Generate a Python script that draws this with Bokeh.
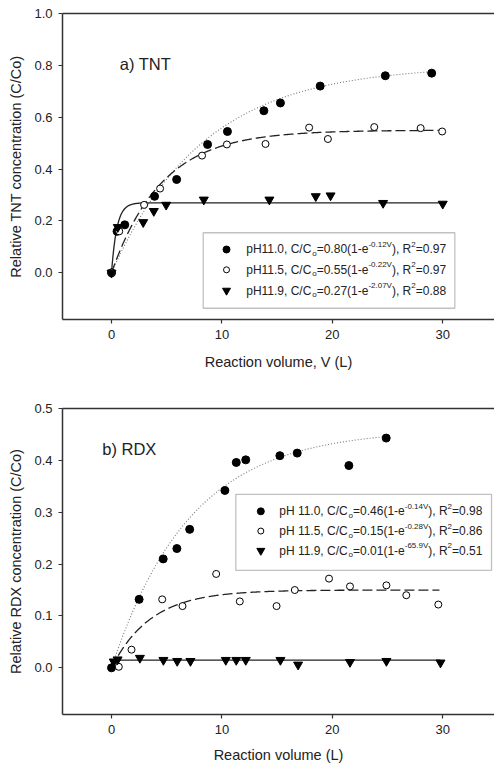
import numpy as np
from bokeh.plotting import figure
from bokeh.models import Range1d, FixedTicker, NumeralTickFormatter, Label, BoxAnnotation, LinearAxis
from bokeh.layouts import column
from bokeh.embed import file_html
from bokeh.resources import INLINE

FONT = "Liberation Sans"
INK = "#222222"
AXC = "#333333"

# ---------------- data ----------------
X_TICKS = [0, 10, 20, 30]
TNT_Y_TICKS = [0.0, 0.2, 0.4, 0.6, 0.8, 1.0]
RDX_Y_TICKS = [0.0, 0.1, 0.2, 0.3, 0.4, 0.5]

# TNT panel (a)
TNT_V_110 = [0, 0.5, 1.2, 3.9, 5.9, 8.7, 10.5, 13.8, 15.3, 18.9, 24.8, 29.0]
TNT_C_110 = [0.0, 0.16, 0.185, 0.295, 0.36, 0.495, 0.545, 0.625, 0.655, 0.72, 0.76, 0.77]
TNT_V_115 = [0, 0.7, 2.95, 4.4, 8.2, 10.45, 13.95, 17.9, 19.6, 23.8, 28.0, 29.95]
TNT_C_115 = [0.0, 0.16, 0.262, 0.325, 0.452, 0.495, 0.497, 0.56, 0.516, 0.562, 0.558, 0.545]
TNT_V_119 = [0, 0.57, 2.87, 3.83, 4.95, 8.36, 14.3, 18.5, 19.84, 24.6, 30.0]
TNT_C_119 = [0.0, 0.176, 0.195, 0.238, 0.262, 0.282, 0.282, 0.295, 0.298, 0.269, 0.266]

# RDX panel (b)
RDX_V_110 = [0, 2.5, 4.68, 5.92, 7.08, 10.27, 11.3, 12.16, 15.25, 16.82, 21.5, 24.88]
RDX_C_110 = [0.0, 0.132, 0.21, 0.23, 0.267, 0.342, 0.396, 0.401, 0.409, 0.414, 0.39, 0.443]
RDX_V_115 = [0.66, 1.81, 4.59, 6.43, 9.48, 11.62, 14.95, 16.6, 19.7, 21.6, 24.9, 26.7, 29.6]
RDX_C_115 = [0.002, 0.035, 0.132, 0.119, 0.181, 0.128, 0.119, 0.15, 0.172, 0.157, 0.159, 0.14, 0.122]
RDX_V_119 = [0.2, 0.55, 2.57, 4.7, 5.95, 7.15, 10.35, 11.3, 12.16, 15.3, 16.9, 21.6, 24.9, 29.8]
RDX_C_119 = [0.012, 0.016, 0.019, 0.015, 0.013, 0.013, 0.015, 0.015, 0.015, 0.015, 0.006, 0.011, 0.013, 0.01]

# fitted curves C/Co = A(1-exp(-kV)), drawn from 0 to END
TNT_FIT_A = [0.80, 0.55, 0.27]
TNT_FIT_K = [0.12, 0.22, 2.07]
TNT_FIT_END = [29.0, 30.0, 30.0]
RDX_FIT_A = [0.46, 0.15, 0.015]
RDX_FIT_K = [0.14, 0.28, 65.9]
RDX_FIT_END = [24.9, 29.7, 29.8]

# legend texts
TNT_LEG_PH = ["pH11.0", "pH11.5", "pH11.9"]
TNT_LEG_A = ["0.80", "0.55", "0.27"]
TNT_LEG_K = ["-0.12V", "-0.22V", "-2.07V"]
TNT_LEG_R2 = ["0.97", "0.97", "0.88"]
RDX_LEG_PH = ["pH 11.0", "pH 11.5", "pH 11.9"]
RDX_LEG_A = ["0.46", "0.15", "0.01"]
RDX_LEG_K = ["-0.14V", "-0.28V", "-65.9V"]
RDX_LEG_R2 = ["0.98", "0.86", "0.51"]

# ---------------- helpers ----------------
ARIAL_W = {c: 556 for c in "0123456789"}
ARIAL_W.update({".": 278, ",": 278, " ": 278, "/": 278, "(": 333, ")": 333, "-": 333,
                "=": 584, "p": 556, "H": 722, "C": 722, "o": 556, "e": 556, "V": 667, "R": 722})


def text_width(s, size):
    return sum(ARIAL_W.get(c, 556) for c in s) / 1000.0 * size


def px_x(px):
    return (px - 111.0) / 11.04


def make_fig(height, btop, bbot, yr, yticks, xlabel, ylabel, xstand):
    p = figure(width=494, height=height, x_range=Range1d(-4.44, 34.69), y_range=Range1d(*yr),
               output_backend="svg", toolbar_location=None,
               min_border_left=62, min_border_right=0, min_border_top=btop, min_border_bottom=bbot)
    p.outline_line_color = None
    p.xgrid.visible = False
    p.ygrid.visible = False
    for ax in (p.xaxis[0], p.yaxis[0]):
        ax.axis_line_color = AXC
        ax.axis_line_width = 1.5
        ax.major_tick_line_color = AXC
        ax.major_tick_line_width = 1.2
        ax.major_tick_out = 4
        ax.major_tick_in = 0
        ax.minor_tick_line_color = None
        ax.major_label_text_font = FONT
        ax.major_label_text_font_size = "13px"
        ax.major_label_text_color = INK
        ax.axis_label_text_font = FONT
        ax.axis_label_text_font_size = "14.5px"
        ax.axis_label_text_font_style = "normal"
        ax.axis_label_text_color = INK
    p.xaxis.ticker = FixedTicker(ticks=X_TICKS)
    p.yaxis.ticker = FixedTicker(ticks=yticks)
    p.yaxis.formatter = NumeralTickFormatter(format="0.0")
    p.xaxis.axis_label = xlabel
    p.yaxis.axis_label = ylabel
    p.xaxis.major_label_standoff = 6
    p.xaxis.axis_label_standoff = xstand
    p.yaxis.major_label_standoff = 6
    p.yaxis.axis_label_standoff = 7
    top_axis = LinearAxis(ticker=FixedTicker(ticks=[]), axis_line_color=AXC, axis_line_width=1.5,
                          major_tick_line_color=None, minor_tick_line_color=None,
                          major_label_text_font_size="0px", major_label_standoff=0)
    p.add_layout(top_axis, "above")
    return p


def fit_curve(a, k, end):
    v = np.concatenate([np.linspace(0, 0.6, 80), np.linspace(0.6, end, 400)[1:]])
    return v, a * (1 - np.exp(-k * v))


def add_series(p, vs, cs, fa, fk, fend):
    styles = [dict(line_color="#777777", line_width=1.1, line_dash="1 2"),
              dict(line_color="#222222", line_width=1.3, line_dash="10 4"),
              dict(line_color="#222222", line_width=1.3)]
    for i in range(3):
        v, c = fit_curve(fa[i], fk[i], fend[i])
        p.line(v, c, **styles[i])
    p.scatter(vs[0], cs[0], marker="circle", size=8, fill_color="black", line_color="black")
    p.scatter(vs[1], cs[1], marker="circle", size=7, fill_color="white", line_color="black", line_width=1)
    p.scatter(vs[2], cs[2], marker="inverted_triangle", size=9, fill_color="black", line_color="black")


def add_legend(p, box, mx, tx, rows, ph, amp, kk, r2):
    left, right, top, bottom = box
    p.add_layout(BoxAnnotation(left=left, right=right, top=top, bottom=bottom,
                               fill_alpha=0, line_color=AXC, line_width=1.3))
    p.scatter([mx], [rows[0]], marker="circle", size=7, fill_color="black", line_color="black")
    p.scatter([mx], [rows[1]], marker="circle", size=6, fill_color="white", line_color="black", line_width=1)
    p.scatter([mx], [rows[2]], marker="inverted_triangle", size=8, fill_color="black", line_color="black")
    for i in range(3):
        pieces = [(f"{ph[i]}, C/C", "n"), ("o", "sub"), (f"={amp[i]}(1-e", "n"), (kk[i], "sup"),
                  ("), R", "n"), ("2", "sup"), (f"={r2[i]}", "n")]
        off = 0.0
        for txt, kind in pieces:
            size = 12 if kind == "n" else 8
            yo = 0 if kind == "n" else (5 if kind == "sup" else -4)
            p.add_layout(Label(x=tx, y=rows[i], x_offset=off, y_offset=yo, text=txt,
                               text_font=FONT, text_font_size=f"{size}px", text_color=INK,
                               text_baseline="middle", text_align="left"))
            off += text_width(txt, size)


# ---------------- panel a) TNT ----------------
def tnt_y(py):
    return (272.3 - py) / 259.0


p1 = make_fig(390, 13, 71, (-0.18, 1.0), TNT_Y_TICKS, "Reaction volume, V (L)",
              "Relative TNT concentration (C/Co)", 12)
add_series(p1, [TNT_V_110, TNT_V_115, TNT_V_119], [TNT_C_110, TNT_C_115, TNT_C_119],
           TNT_FIT_A, TNT_FIT_K, TNT_FIT_END)
add_legend(p1, (px_x(202.7), px_x(454.3), tnt_y(232.3), tnt_y(307.7)), px_x(226), px_x(245.7),
           [tnt_y(249), tnt_y(269.3), tnt_y(290)], TNT_LEG_PH, TNT_LEG_A, TNT_LEG_K, TNT_LEG_R2)
p1.add_layout(Label(x=px_x(119.3), y=tnt_y(63.3), text="a) TNT", text_font=FONT,
                    text_font_size="16.5px", text_color=INK, text_baseline="middle"))


# ---------------- panel b) RDX ----------------
def rdx_y(py):
    return (667.3 - py) / 518.0


p2 = make_fig(375, 18, 51, (-0.09, 0.5), RDX_Y_TICKS, "Reaction volume (L)",
              "Relative RDX concentration (C/Co)", 10)
add_series(p2, [RDX_V_110, RDX_V_115, RDX_V_119], [RDX_C_110, RDX_C_115, RDX_C_119],
           RDX_FIT_A, RDX_FIT_K, RDX_FIT_END)
add_legend(p2, (px_x(235.3), px_x(491), rdx_y(494), rdx_y(570)), px_x(260.3), px_x(278.7),
           [rdx_y(511), rdx_y(530.7), rdx_y(550.3)], RDX_LEG_PH, RDX_LEG_A, RDX_LEG_K, RDX_LEG_R2)
p2.add_layout(Label(x=px_x(101.7), y=rdx_y(448.3), text="b) RDX", text_font=FONT,
                    text_font_size="16.5px", text_color=INK, text_baseline="middle"))

layout = column(p1, p2, spacing=0)
open("out.html", "w").write(file_html(layout, INLINE))
